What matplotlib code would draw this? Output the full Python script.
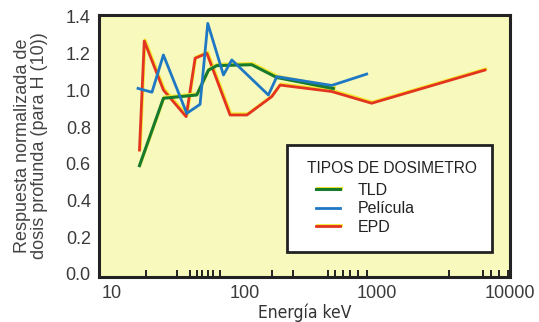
import matplotlib
matplotlib.use("Agg")
import matplotlib.pyplot as plt
import matplotlib.patheffects as pe
from matplotlib.patches import Rectangle

plt.rcParams['font.family'] = ['Liberation Sans', 'DejaVu Sans']

# TLD
tld_e = [16.1, 24.4, 43.5, 53.3, 61.6, 113, 175, 467]
tld_r = [0.59, 0.957, 0.975, 1.11, 1.135, 1.14, 1.07, 1.01]
# Pelicula
pel_e = [15.7, 20, 24.4, 36.6, 46.1, 52.7, 69.2, 80, 151, 175, 453, 832]
pel_r = [1.011, 0.99, 1.193, 0.875, 0.924, 1.365, 1.084, 1.166, 0.975, 1.075, 1.027, 1.089]
# EPD
epd_e = [16.1, 17.5, 24.4, 36.2, 42.3, 51.9, 77.6, 104, 160, 185, 453, 907, 6490]
epd_r = [0.675, 1.269, 1.002, 0.857, 1.175, 1.202, 0.866, 0.866, 0.966, 1.029, 0.994, 0.93, 1.111]

xticks_major = [10, 100, 1000, 10000]
xticks_minor = [18, 30.8, 38.8, 43.5, 48, 52.7, 58.1, 65.3, 160, 233,
                425, 480, 548, 622, 716, 832, 3490, 6230, 7160, 8310, 9660]
yticks = [0.0, 0.2, 0.4, 0.6, 0.8, 1.0, 1.2, 1.4]

fig = plt.figure(figsize=(5.39, 3.22), dpi=100)
ax = fig.add_axes([0.184, 0.140, 0.762, 0.813])
ax.set_facecolor('#f8f9bc')

glow = [pe.SimpleLineShadow(offset=(0.6, 0.9), shadow_color='#f2e830', alpha=1), pe.Normal()]
ax.plot(tld_e, tld_r, color='#187a2c', lw=2.2, label='TLD', path_effects=glow, zorder=3)
ax.plot(pel_e, pel_r, color='#1f78c4', lw=2.0, label='Película', zorder=4)
ax.plot(epd_e, epd_r, color='#e2341e', lw=2.0, label='EPD', path_effects=glow, zorder=2)

ax.set_xscale('log')
ax.set_xlim(8, 10000)
ax.set_ylim(-0.016, 1.41)
ax.set_xticks(xticks_major)
ax.set_xticklabels([str(v) for v in xticks_major])
ax.set_xticks(xticks_minor, minor=True)
ax.set_xticklabels([], minor=True)
ax.set_yticks(yticks)
ax.set_yticklabels(['%.1f' % v for v in yticks])
ax.tick_params(axis='x', which='major', length=0, labelsize=13, labelcolor='#3a3a3a', pad=6)
ax.tick_params(axis='x', which='minor', direction='in', length=5, width=1.4, color='#222222')
ax.tick_params(axis='y', length=0, labelsize=13, labelcolor='#3a3a3a', pad=6)

for s in ax.spines.values():
    s.set_linewidth(2.2)
    s.set_color('#222222')

ax.set_xlabel('Energía keV', fontsize=12.5, color='#333333', labelpad=1,
              family=['DejaVu Sans'], stretch='condensed')
ax.set_ylabel('Respuesta normalizada de\ndosis profunda (para H (10))',
              fontsize=13, color='#444444', linespacing=1.05)
ax.yaxis.set_label_coords(-0.124, 0.5)

# legend box
box = Rectangle((0.457, 0.095), 0.499, 0.409, transform=ax.transAxes,
                facecolor='white', edgecolor='#222222', lw=2.0, zorder=5)
ax.add_patch(box)
ax.text(0.506, 0.416, 'TIPOS DE DOSIMETRO', transform=ax.transAxes, fontsize=11.2,
        color='#222222', ha='left', va='center', zorder=6)
leg = ax.legend(loc='center left', bbox_to_anchor=(0.528, 0.26), frameon=False,
                fontsize=11.5, handlelength=1.5, handletextpad=1.1,
                borderpad=0, borderaxespad=0, labelspacing=0.22)
leg.set_zorder(7)
for t in leg.get_texts():
    t.set_color('#222222')

fig.savefig('out.png', dpi=100)
